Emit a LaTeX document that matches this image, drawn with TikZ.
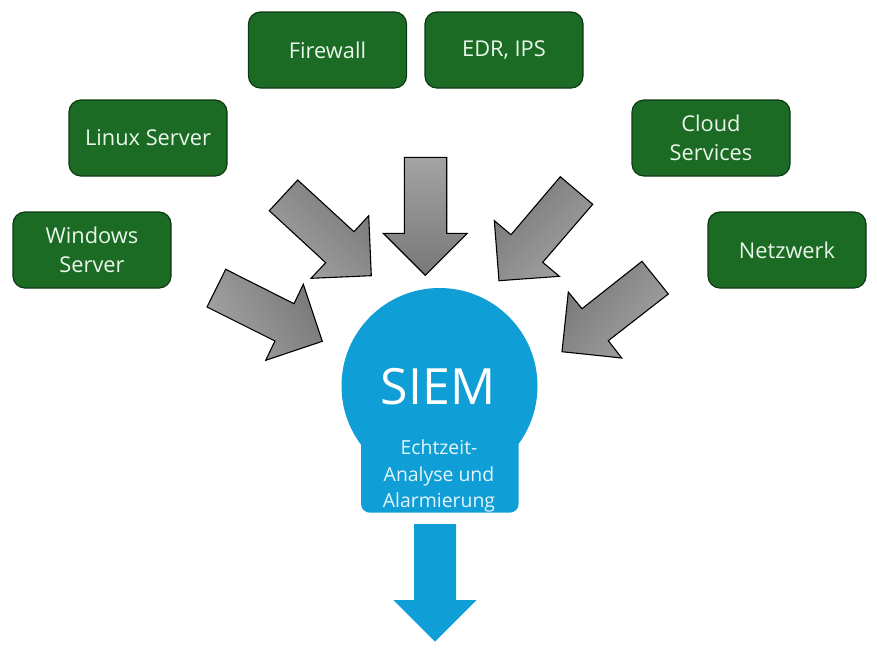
\documentclass[tikz,border=0pt]{standalone}
\usepackage{fontspec}
\setmainfont{Open Sans}
\definecolor{sourcegreen}{HTML}{1B6B25}
\definecolor{sourceedge}{HTML}{0D3A13}
\definecolor{siemblue}{HTML}{0F9ED5}
\definecolor{labelgreen}{HTML}{EAF6EA}
\definecolor{labelblue}{HTML}{E4F6FC}
\tikzset{
    source/.style={draw=sourceedge,fill=sourcegreen,line width=1.2pt,rounded corners=12pt,
        minimum width=158pt,minimum height=76pt,inner sep=0pt,align=center,
        text=labelgreen,font=\fontsize{21.8}{29}\selectfont},
    inflow/.style={draw=black,line width=1.1pt,line join=miter,top color=black!36,bottom color=black!53},
}
\begin{document}
\begin{tikzpicture}[x=1pt,y=-1pt]
        \useasboundingbox (0,0) rectangle (877,649);
        % sources
        \node [source] (firewall) at (327.5,50) {Firewall};
        \node [source] (edr) at (504,50) {EDR, IPS};
        \node [source] (linux) at (148,138) {Linux Server};
        \node [source] (windows) at (92,250) {Windows\\Server};
        \node [source] (cloud) at (711,138) {Cloud\\Services};
        \node [source] (netzwerk) at (787,250) {Netzwerk};
        % block arrows
        \draw [inflow,shading angle=120] (225.7,269.3) -- (294,303.7) -- (303.3,284.3) -- (322.3,341.3) -- (265.7,360.3) -- (275,341) -- (207,307) -- cycle;
        \draw [inflow,shading angle=135] (297.7,180) -- (354,231.7) -- (368.7,215.7) -- (371.3,275.7) -- (311,278.3) -- (325.7,262.7) -- (269.3,210.7) -- cycle;
        \draw [inflow] (404.3,157.3) -- (446.7,157.3) -- (446.7,233.3) -- (467.3,233.3) -- (425.3,275.3) -- (383.3,233.3) -- (404.3,233.3) -- cycle;
        \draw [inflow,shading angle=-135] (560.3,176.7) -- (592.7,204.3) -- (542.7,262.3) -- (559.3,276.3) -- (499,280.7) -- (494.3,220.7) -- (511,234.7) -- cycle;
        \draw [inflow,shading angle=-128] (642,261.3) -- (668.3,294) -- (608.3,340.7) -- (621.7,358) -- (562,351.7) -- (568.3,292) -- (582,308.7) -- cycle;
        % siem
        \fill [siemblue] (439.5,386) circle (98);
        \fill [siemblue,rounded corners=9pt] (361,425) rectangle (518.7,512.7);
        \node [text=white,font=\fontsize{50}{60}\selectfont,inner sep=0pt] (siem) at (438,387) {SIEM};
        \node [text=labelblue,font=\fontsize{19.4}{26.5}\selectfont,align=center,inner sep=0pt] (analyse) at (439,476) {Echtzeit-\\Analyse und\\Alarmierung};
        \fill [siemblue] (414,524) -- (456,524) -- (456,600) -- (476.7,600) -- (435,641.7) -- (393.3,600) -- (414,600) -- cycle;
\end{tikzpicture}
\end{document}
